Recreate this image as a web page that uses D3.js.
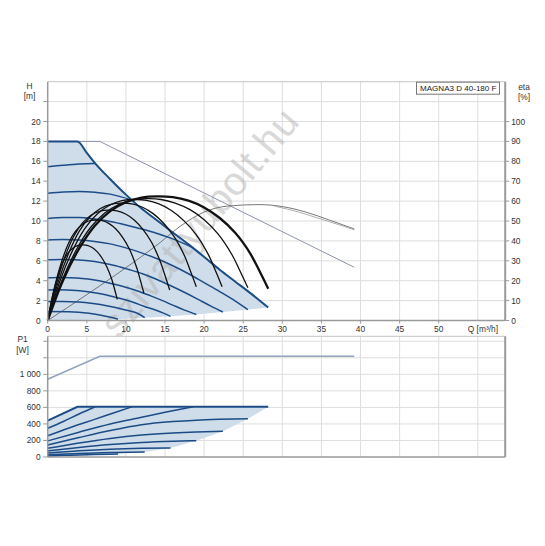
<!DOCTYPE html>
<html><head><meta charset="utf-8">
<script src="https://cdn.jsdelivr.net/npm/d3@7"></script>
<style>body{margin:0;background:#fff} text{font-family:"Liberation Sans",Arial,sans-serif;}</style>
</head><body>
<svg id="c" width="545" height="546"></svg>
<script>
// ---------- data ----------
const qTicks = [0,5,10,15,20,25,30,35,40,45,50];
const qGrid = [5,10,15,20,25,30,35,40,45,50,55];
const hTicks = [0,2,4,6,8,10,12,14,16,18,20];
const hGrid = [2,4,6,8,10,12,14,16,18,20,22];
const etaTicks = [0,10,20,30,40,50,60,70,80,90,100];
const pTicks = [0,200,400,600,800,1000];
const pGrid = [200,400,600,800,1000,1200,1400];
const pTickLabels = ["0","200","400","600","800","1 000"];
const title = "MAGNA3 D 40-180 F";

// H-Q max curve (m)
const maxCurve = [[0,18],[3.8,18],[5,16.85],[6.1,15.77],[8,14.2],[10,12.65],[12,11.25],[14,10.05],[15.4,9.2],[18,7.65],[20.3,6.2],[22,5.1],[24,3.9],[26,2.7],[28.2,1.3]];
const lowerBoundary = [[28.2,1.3],[25.6,1.1],[22.4,0.85],[19,0.6],[15.7,0.42],[12.4,0.28],[9,0.12],[0,0]];
const speedCurves = [
  [[0,15.45],[2,15.6],[4,15.72],[6.1,15.77]],
  [[0,12.8],[2,12.92],[4,12.97],[6,12.9],[8,12.7],[10.8,12.1]],
  [[0,10.25],[2,10.35],[4,10.35],[6,10.2],[8,9.95],[10,9.6],[12,9.2],[14,8.75],[16,8.2],[18.6,7.3]],
  [[0,8.1],[2,8.15],[4,8.1],[6,7.95],[8,7.7],[10,7.3],[12,6.8],[14,6.2],[16,5.5],[18,4.7],[20,3.8],[22,2.9],[24,1.95],[25.6,1.1]],
  [[0,6.1],[1.7,6.14],[3.5,6.1],[5.2,6.0],[6.9,5.8],[8.7,5.5],[10.4,5.12],[12.2,4.67],[13.9,4.14],[15.6,3.54],[17.4,2.86],[19.1,2.18],[20.8,1.47],[22.4,0.85]],
  [[0,4.3],[1.5,4.33],[2.9,4.3],[4.4,4.22],[5.8,4.09],[7.3,3.88],[8.7,3.61],[10.2,3.29],[11.7,2.92],[13.1,2.5],[14.6,2.02],[16,1.54],[17.5,1.04],[19,0.6]],
  [[0,3.07],[1.2,3.09],[2.5,3.07],[3.7,3.01],[4.9,2.92],[6.2,2.77],[7.4,2.58],[8.6,2.35],[9.9,2.08],[11.1,1.78],[12.3,1.44],[13.6,1.1],[14.8,0.74],[15.7,0.42]],
  [[0,1.9],[1.9,1.9],[3.9,1.86],[5.8,1.71],[7.7,1.46],[9.7,1.1],[11.6,0.68],[12.4,0.28]],
  [[0,0.9],[2.7,0.88],[5.3,0.72],[7,0.5],[8.2,0.3],[9,0.12]]
];
// efficiency curves (%)
const effCurves = [
  [[0,0],[0.63,12.5],[1.26,21.9],[1.89,28.9],[2.52,33.5],[3.16,36.2],[3.79,37.6],[4.42,38.0],[5.05,37.8],[5.68,36.7],[6.31,34.6],[6.94,31.4],[7.57,26.9],[8.21,20.5],[8.52,16.2],[8.9,10.6]],
  [[0,0],[0.87,16.6],[1.74,29.1],[2.62,38.4],[3.49,44.5],[4.36,48.1],[5.23,50.0],[6.11,50.5],[6.98,50.2],[7.85,48.7],[8.72,46.0],[9.6,41.7],[10.47,35.7],[11.34,27.0],[11.78,21.2],[12.3,13.7]],
  [[0,0],[1.11,18.2],[2.21,32.0],[3.32,42.2],[4.43,48.9],[5.53,52.9],[6.64,54.9],[7.74,55.5],[8.85,55.1],[9.96,53.5],[11.06,50.5],[12.17,45.8],[13.28,39.3],[14.38,29.8],[14.94,23.4],[15.6,15.3]],
  [[0,0],[1.35,19.4],[2.7,34.0],[4.04,44.9],[5.39,52.0],[6.74,56.3],[8.09,58.4],[9.43,59.0],[10.78,58.6],[12.13,56.9],[13.48,53.7],[14.82,48.9],[16.17,42.2],[17.52,32.3],[18.19,25.5],[19,17]],
  [[0,0],[1.58,20.0],[3.16,35.0],[4.74,46.2],[6.33,53.5],[7.91,57.9],[9.49,60.2],[11.07,60.8],[12.65,60.4],[14.23,58.6],[15.82,55.3],[17.4,50.2],[18.98,43.2],[20.56,33.0],[21.35,26.0],[22.3,17]],
  [[0,0],[1.82,20.1],[3.63,35.3],[5.45,46.6],[7.26,53.9],[9.08,58.3],[10.9,60.6],[12.7,61.2],[14.5,60.8],[16.3,59.0],[18.2,55.7],[20.0,50.6],[21.8,43.4],[23.6,32.8],[24.5,25.6],[25.6,16.5]]
];
const effMax = [[0,0],[2,20.5],[4,36],[6,47.5],[8,55],[10,59.5],[12,61.8],[14,62.4],[16,62],[18,60.2],[20,56.8],[22,51.5],[24,44],[25,39],[26,33],[27,25.5],[28.2,16]];
const greyMaxH = [[0,18],[6.66,18],[39.2,5.35]];
const greyEta = [[0,0],[5,13],[10,26.5],[14,38],[17,47.5],[20,54.5],[23,57.5],[27,58.25],[30,57.25],[33,54.5],[36,50.5],[39.2,46]];
const greyEta2 = [[29,57.5],[32,54.6],[35,50.9],[37.5,47.8],[39.2,45.6]];

// P1 (W)
const pMaxLine = [[0,940],[6.66,1218],[39.2,1218]];
const pTop = [[0,439],[3.8,608],[28.2,608]];
const pLower = [[28.2,608],[25.6,463],[22.4,310],[19,197],[15.7,110],[12.4,60],[9,36],[0,0]];
const powerCurves = [
  [[0,347],[2,430],[4,520],[6.1,608]],
  [[0,256],[3,360],[6,455],[8.5,535],[10.8,608]],
  [[0,195],[4,300],[8,400],[12,480],[15,540],[18.6,608]],
  [[0,145],[4,235],[8,320],[12,390],[16,428],[19,446],[22,456],[25.6,463]],
  [[0,105],[4,170],[8,225],[12,265],[16,290],[19,302],[22.4,310]],
  [[0,73],[4,115],[8,150],[12,175],[16,190],[19,197]],
  [[0,47],[4,75],[8,95],[12,106],[15.7,110]],
  [[0,27],[4,42],[8,53],[12.4,60]],
  [[0,13],[3,22],[6,30],[9,36]]
];

// ---------- drawing ----------
const svg = d3.select("#c");
const L = 47.7, R = 505.2;
const x = d3.scaleLinear().domain([0,58.5]).range([L,R]);
const yH = d3.scaleLinear().domain([0,24]).range([320.5,81.7]);
const yE = d3.scaleLinear().domain([0,120]).range([320.5,81.7]);
const yP = d3.scaleLinear().domain([0,1460]).range([457,336.3]);

const BLUE = "#1c4c86", FILL = "#cfdcea", GRID = "#dedede", AX = "#9a9a9a";

function grid(yScale, ys, top, bottom){
  const g = svg.append("g");
  g.selectAll(".v").data(qGrid).join("line")
    .attr("x1",d=>x(d)).attr("x2",d=>x(d)).attr("y1",top).attr("y2",bottom)
    .attr("stroke",GRID).attr("stroke-width",1);
  g.selectAll(".h").data(ys).join("line")
    .attr("x1",L).attr("x2",R).attr("y1",d=>yScale(d)).attr("y2",d=>yScale(d))
    .attr("stroke",GRID).attr("stroke-width",1);
}
grid(yH, hGrid, yH(24), yH(0));
grid(yP, pGrid, yP(1460), yP(0));

const lm = (ys)=>d3.line().x(d=>x(d[0])).y(d=>ys(d[1])).curve(d3.curveMonotoneX);
const lc = (ys)=>d3.line().x(d=>x(d[0])).y(d=>ys(d[1])).curve(d3.curveCatmullRom.alpha(0.5));
const ll = (ys)=>d3.line().x(d=>x(d[0])).y(d=>ys(d[1]));

// top chart fill
svg.append("path")
  .attr("d", lm(yH)(maxCurve) + ll(yH)(lowerBoundary).replace(/^M/,"L") + "Z")
  .attr("fill",FILL).attr("stroke","none");
// bottom chart fill
svg.append("path")
  .attr("d", ll(yP)(pTop) + ll(yP)(pLower).replace(/^M/,"L") + "Z")
  .attr("fill",FILL).attr("stroke","none");

// watermark
svg.append("text").attr("transform","translate(210,231) rotate(-50)")
  .attr("text-anchor","middle").attr("font-size",40).attr("letter-spacing",0.5)
  .attr("fill","#b4b4b4").attr("opacity",0.5)
  .text("szivattyubolt.hu");

// grey lines
svg.append("path").attr("d", ll(yH)(greyMaxH)).attr("fill","none").attr("stroke","#8c93a6").attr("stroke-width",1);
svg.append("path").attr("d", lm(yE)(greyEta)).attr("fill","none").attr("stroke","#6a6a6a").attr("stroke-width",0.9);
svg.append("path").attr("d", lm(yE)(greyEta2)).attr("fill","none").attr("stroke","#9a9a9a").attr("stroke-width",0.8);
svg.append("path").attr("d", ll(yP)(pMaxLine)).attr("fill","none").attr("stroke","#8ea5bd").attr("stroke-width",1.5);

// speed curves
svg.append("g").selectAll("path").data(speedCurves).join("path")
  .attr("d", lm(yH)).attr("fill","none").attr("stroke",BLUE).attr("stroke-width",1.5);
svg.append("path").attr("d", lm(yH)(maxCurve)).attr("fill","none").attr("stroke",BLUE).attr("stroke-width",2);

// power curves
svg.append("g").selectAll("path").data(powerCurves).join("path")
  .attr("d", lm(yP)).attr("fill","none").attr("stroke",BLUE).attr("stroke-width",1.5);
svg.append("path").attr("d", ll(yP)(pTop)).attr("fill","none").attr("stroke",BLUE).attr("stroke-width",2);

// efficiency curves
svg.append("g").selectAll("path").data(effCurves).join("path")
  .attr("d", lc(yE)).attr("fill","none").attr("stroke","#111").attr("stroke-width",1.3);
svg.append("path").attr("d", lc(yE)(effMax)).attr("fill","none").attr("stroke","#111").attr("stroke-width",2.3);

// frames
function frame(top,bottom){
  svg.append("line").attr("x1",L).attr("x2",R).attr("y1",top).attr("y2",top).attr("stroke","#c4c4c4").attr("stroke-width",1);
  svg.append("line").attr("x1",L).attr("x2",R).attr("y1",bottom).attr("y2",bottom).attr("stroke",AX).attr("stroke-width",1.5);
  svg.append("line").attr("x1",L).attr("x2",L).attr("y1",top).attr("y2",bottom).attr("stroke",AX).attr("stroke-width",1.5);
  svg.append("line").attr("x1",R).attr("x2",R).attr("y1",top).attr("y2",bottom).attr("stroke",AX).attr("stroke-width",2);
}
frame(yH(24), yH(0));
frame(yP(1460), yP(0));

const fs = 8.4, tc = "#333";
// left H ticks
svg.append("g").selectAll("line").data(hGrid).join("line")
  .attr("x1",L-4.5).attr("x2",L).attr("y1",d=>yH(d)).attr("y2",d=>yH(d)).attr("stroke",AX);
svg.append("g").selectAll("text").data(hTicks).join("text")
  .attr("x",L-7).attr("y",d=>yH(d)+3).attr("text-anchor","end").attr("font-size",fs).attr("fill",tc).text(d=>d);
// right eta ticks
svg.append("g").selectAll("line").data(etaTicks).join("line")
  .attr("x1",R).attr("x2",R+4).attr("y1",d=>yE(d)).attr("y2",d=>yE(d)).attr("stroke",AX);
svg.append("g").selectAll("text").data(etaTicks).join("text")
  .attr("x",R+6).attr("y",d=>yE(d)+3).attr("text-anchor","start").attr("font-size",fs).attr("fill",tc).text(d=>d);
// x ticks
svg.append("g").selectAll("line").data(qTicks).join("line")
  .attr("x1",d=>x(d)).attr("x2",d=>x(d)).attr("y1",yH(0)).attr("y2",yH(0)+3).attr("stroke",AX);
svg.append("g").selectAll("text").data(qTicks).join("text")
  .attr("x",d=>x(d)).attr("y",yH(0)+11).attr("text-anchor","middle").attr("font-size",fs).attr("fill",tc).text(d=>d);
svg.append("text").attr("x",498).attr("y",yH(0)+11).attr("text-anchor","end").attr("font-size",fs).attr("fill",tc).text("Q [m³/h]");
// P ticks
svg.append("g").selectAll("line").data(pGrid.concat([0])).join("line")
  .attr("x1",L-4.5).attr("x2",L).attr("y1",d=>yP(d)).attr("y2",d=>yP(d)).attr("stroke",AX);
svg.append("g").selectAll("text").data(pTicks).join("text")
  .attr("x",L-7).attr("y",d=>yP(d)+3).attr("text-anchor","end").attr("font-size",fs).attr("fill",tc).text((d,i)=>pTickLabels[i]);

// axis titles
svg.append("text").attr("x",29.5).attr("y",89).attr("text-anchor","middle").attr("font-size",fs).attr("fill",tc).text("H");
svg.append("text").attr("x",29.5).attr("y",99).attr("text-anchor","middle").attr("font-size",fs).attr("fill",tc).text("[m]");
svg.append("text").attr("x",524).attr("y",90).attr("text-anchor","middle").attr("font-size",fs).attr("fill",tc).text("eta");
svg.append("text").attr("x",524).attr("y",100).attr("text-anchor","middle").attr("font-size",fs).attr("fill",tc).text("[%]");
svg.append("text").attr("x",22.5).attr("y",341.5).attr("text-anchor","middle").attr("font-size",fs).attr("fill",tc).text("P1");
svg.append("text").attr("x",22.5).attr("y",352.5).attr("text-anchor","middle").attr("font-size",fs).attr("fill",tc).text("[W]");

// title box
svg.append("rect").attr("x",416.5).attr("y",82.2).attr("width",83).attr("height",12).attr("fill","#fff").attr("stroke","#777").attr("stroke-width",1);
svg.append("text").attr("x",420).attr("y",91.2).attr("font-size",8.05).attr("fill","#222").text(title);
</script>
</body></html>
